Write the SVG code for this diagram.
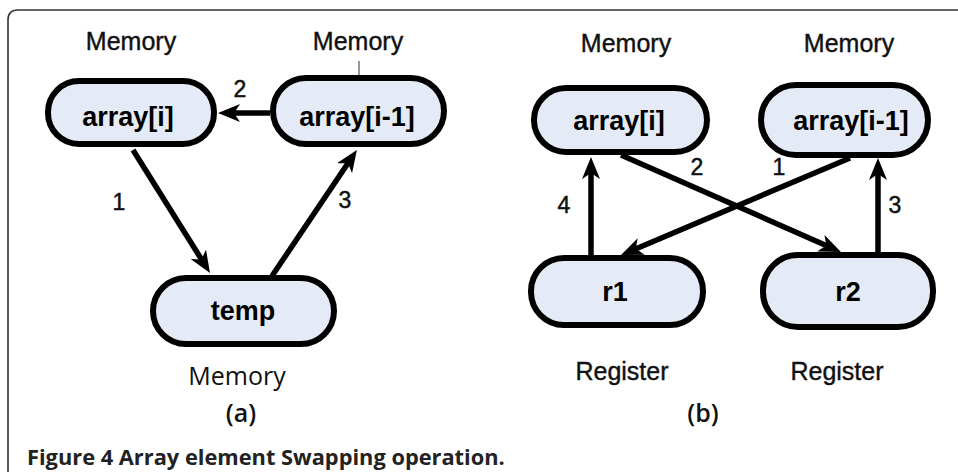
<svg xmlns="http://www.w3.org/2000/svg" width="958" height="472" viewBox="0 0 958 472">
<style>
.node{fill:#e5ebf6;stroke:#000;stroke-width:6}
.nt{font-family:"Liberation Sans",Arial,sans-serif;font-weight:bold;font-size:27px;text-anchor:middle;fill:#000}
.lab{font-family:"Liberation Sans",Arial,sans-serif;font-size:25px;text-anchor:middle;fill:#111;stroke:#111;stroke-width:0.4}
.lab2{font-family:"Open Sans","Noto Sans",sans-serif;font-size:25px;text-anchor:middle;fill:#111}
.num{font-family:"Liberation Sans",Arial,sans-serif;font-size:23px;text-anchor:middle;fill:#111;stroke:#111;stroke-width:0.5}
.edge{stroke:#000;stroke-width:5.5;fill:none;marker-end:url(#ah)}
.cap{font-family:"Open Sans","Noto Sans",sans-serif;font-weight:bold;font-size:21.8px;fill:#222}
</style>
<defs>
<marker id="ah" viewBox="0 0 22 18" markerWidth="22" markerHeight="18" refX="12" refY="9" orient="auto" markerUnits="userSpaceOnUse">
<path d="M0,0 L22,9 L0,18 L6,9 Z" fill="#000"/>
</marker>
</defs>
<rect x="0" y="0" width="958" height="472" fill="#fff"/>
<path d="M8,480 L8,20 Q8,10 18,10 L970,10" fill="none" stroke="#333" stroke-width="1.6"/>

<g id="labels">
<text class="lab" x="131" y="50">Memory</text>
<text class="lab" x="358" y="50">Memory</text>
<line x1="359" y1="61" x2="359" y2="76" stroke="#333" stroke-width="1"/>
<text class="lab2" x="237" y="385">Memory</text>
<text class="lab2" x="241" y="422" font-size="27" font-weight="600">(a)</text>
<text class="lab" x="626" y="52">Memory</text>
<text class="lab" x="849" y="52">Memory</text>
<text class="lab" x="622" y="380">Register</text>
<text class="lab" x="837" y="380">Register</text>
<text class="lab2" x="703" y="422" font-size="27" font-weight="600">(b)</text>
</g>

<g id="connectors">
<line class="edge" x1="270" y1="113" x2="228" y2="113"/>
<line class="edge" x1="133" y1="150" x2="204.7" y2="264.5"/>
<line class="edge" x1="272" y1="276" x2="351.3" y2="158.2"/>
<line class="edge" x1="591" y1="256" x2="591" y2="167"/>
<line class="edge" x1="878" y1="253" x2="878" y2="168"/>
<line class="edge" x1="621" y1="155" x2="831.8" y2="248"/>
<line class="edge" x1="850" y1="158" x2="630.2" y2="251.2"/>
<text class="num" x="240" y="97">2</text>
<text class="num" x="119" y="210">1</text>
<text class="num" x="345" y="208">3</text>
<text class="num" x="697" y="175">2</text>
<text class="num" x="779" y="175">1</text>
<text class="num" x="564" y="213">4</text>
<text class="num" x="895" y="213">3</text>
</g>

<g id="a-array-i">
<rect class="node" x="48" y="81" width="166" height="63" rx="31"/>
<text class="nt" x="128" y="126">array[i]</text>
</g>
<g id="a-array-i-1">
<rect class="node" x="273" y="78" width="171" height="66" rx="33"/>
<text class="nt" x="357" y="126">array[i-1]</text>
</g>
<g id="a-temp">
<rect class="node" x="153" y="278" width="181" height="66" rx="33"/>
<text class="nt" x="243" y="320">temp</text>
</g>
<g id="b-array-i">
<rect class="node" x="534" y="88" width="173" height="64" rx="32"/>
<text class="nt" x="619" y="130">array[i]</text>
</g>
<g id="b-array-i-1">
<rect class="node" x="761" y="85" width="167" height="70" rx="35"/>
<text class="nt" x="851" y="130">array[i-1]</text>
</g>
<g id="b-r1">
<rect class="node" x="531" y="258" width="172" height="67" rx="33"/>
<text class="nt" x="615" y="301">r1</text>
</g>
<g id="b-r2">
<rect class="node" x="763" y="255" width="170" height="72" rx="35"/>
<text class="nt" x="848" y="301">r2</text>
</g>

<text class="cap" x="27" y="465">Figure 4 Array element Swapping operation.</text>
</svg>
